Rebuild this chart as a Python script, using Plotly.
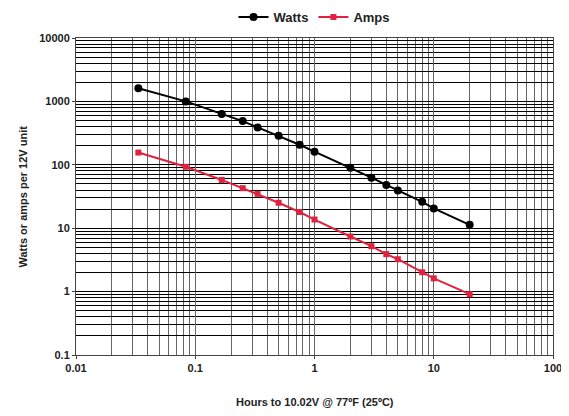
import plotly.graph_objects as go

hours = [2/60, 5/60, 10/60, 15/60, 20/60, 30/60, 45/60, 1, 2, 3, 4, 5, 8, 10, 20]
watts = [1615, 1000, 635, 489, 389, 286, 207, 161, 90, 62.7, 48.2, 39.2, 26.1, 20.5, 11.3]
amps = [156, 93, 57.7, 42.8, 34.8, 25.2, 18.0, 13.7, 7.4, 5.2, 3.9, 3.24, 2.02, 1.62, 0.91]

x_ticks = [0.01, 0.1, 1, 10, 100]
x_tick_text = ["0.01", "0.1", "1", "10", "100"]
y_ticks = [0.1, 1, 10, 100, 1000, 10000]
y_tick_text = ["0.1", "1", "10", "100", "1000", "10000"]

FONT = "Liberation Sans, Arial, sans-serif"
# page has an 8px body margin; figure is sized so that it fills the 569x416 window
OFF = 8
W, H = 569 - OFF, 416 - OFF
ML, MR, MT, MB = 76 - OFF, 16, 38 - OFF, 61
PW, PH = W - ML - MR, H - MT - MB

fig = go.Figure()
fig.add_trace(go.Scatter(x=hours, y=watts, name="<b>Watts</b>", mode="lines+markers",
                         line=dict(color="black", width=2),
                         marker=dict(symbol="circle", size=8, color="black")))
fig.add_trace(go.Scatter(x=hours, y=amps, name="<b>Amps</b>", mode="lines+markers",
                         line=dict(color="#e0223f", width=2),
                         marker=dict(symbol="square", size=6, color="#e0223f")))

fig.update_layout(
    width=W, height=H,
    margin=dict(l=ML, r=MR, t=MT, b=MB, autoexpand=False),
    paper_bgcolor="white", plot_bgcolor="white",
    font=dict(family=FONT, size=11, color="#222"),
    showlegend=True,
    legend=dict(orientation="h", x=0.5, xanchor="center", xref="paper",
                y=1 - (17 - OFF)/H, yanchor="middle", yref="container",
                font=dict(size=13, color="#222"), itemwidth=30, tracegroupgap=0),
    xaxis=dict(type="log", range=[-2, 2], automargin=False,
               tickvals=x_ticks, ticktext=["<b>%s</b>" % t for t in x_tick_text],
               showgrid=True, gridcolor="#666", gridwidth=1,
               minor=dict(showgrid=True, gridcolor="#666", gridwidth=1,
                          dtick="D1", ticks=""),
               showline=True, linecolor="#444", linewidth=1, mirror=True,
               ticks="outside", ticklen=3, tickcolor="#444",
               zeroline=False),
    yaxis=dict(type="log", range=[-1, 4], automargin=False,
               tickvals=y_ticks, ticktext=["<b>%s</b>" % t for t in y_tick_text],
               showgrid=True, gridcolor="black", gridwidth=1,
               minor=dict(showgrid=True, gridcolor="black", gridwidth=1,
                          dtick="D1", ticks=""),
               showline=True, linecolor="#444", linewidth=1, mirror=True,
               ticks="outside", ticklen=3, tickcolor="#444",
               zeroline=False),
    annotations=[
        dict(text="<b>Hours to 10.02V @ 77ºF (25ºC)</b>", xref="paper", yref="paper",
             x=0.5, y=(H - MB - (402 - OFF)) / PH, xanchor="center", yanchor="middle",
             showarrow=False, font=dict(size=11)),
        dict(text="<b>Watts or amps per 12V unit</b>", xref="paper", yref="paper",
             x=((22 - OFF) - ML) / PW, y=0.5, xanchor="center", yanchor="middle",
             showarrow=False, textangle=-90, font=dict(size=11)),
    ],
)

fig.write_html("out.html")
